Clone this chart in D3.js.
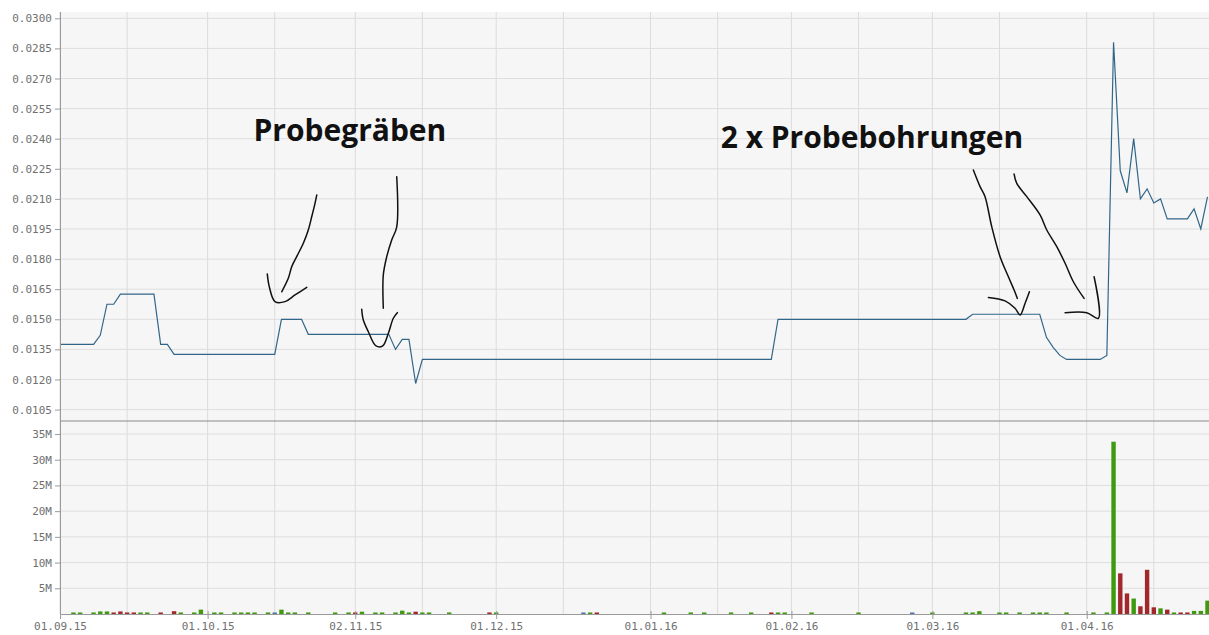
<!DOCTYPE html>
<html>
<head>
<meta charset="utf-8">
<script src="https://cdn.jsdelivr.net/npm/d3@7"></script>
<style>
  body { margin: 0; background: #ffffff; }
  svg { display: block; font-family: "DejaVu Sans Mono", monospace; }
</style>
</head>
<body>
<div id="chart"></div>
<script>
// Price line, breakpoints (linear between them)
const priceDates = [
  "2015-09-01", "2015-09-08", "2015-09-09", "2015-09-10", "2015-09-11", "2015-09-14",
  "2015-09-21", "2015-09-22", "2015-09-23", "2015-09-24", "2015-10-15", "2015-10-16",
  "2015-10-21", "2015-10-22", "2015-11-09", "2015-11-10", "2015-11-11", "2015-11-12",
  "2015-11-13", "2015-11-16", "2016-01-27", "2016-01-28", "2016-03-08", "2016-03-09",
  "2016-03-23", "2016-03-24", "2016-03-25", "2016-03-28", "2016-03-29", "2016-04-05",
  "2016-04-06", "2016-04-07", "2016-04-08", "2016-04-11", "2016-04-12", "2016-04-13",
  "2016-04-14", "2016-04-15", "2016-04-18", "2016-04-19", "2016-04-22", "2016-04-25",
  "2016-04-26", "2016-04-27"
];
const priceValues = [
  0.01375, 0.01375, 0.0142, 0.01575, 0.01575, 0.01625,
  0.01625, 0.01375, 0.01375, 0.01325, 0.01325, 0.0150,
  0.0150, 0.01425, 0.01425, 0.0135, 0.0140, 0.0140,
  0.0118, 0.0130, 0.0130, 0.0150, 0.0150, 0.01525,
  0.01525, 0.0141, 0.0136, 0.0132, 0.0130, 0.0130,
  0.0132, 0.0288, 0.0224, 0.0213, 0.0240, 0.0210,
  0.0215, 0.0208, 0.0210, 0.0200, 0.0200, 0.0205,
  0.0195, 0.0211
];

// Volume bars (days without a bar are left out)
const volumeDates = [
  "2015-09-03", "2015-09-04", "2015-09-08", "2015-09-09", "2015-09-10", "2015-09-11",
  "2015-09-14", "2015-09-15", "2015-09-16", "2015-09-17", "2015-09-18", "2015-09-22",
  "2015-09-24", "2015-09-25", "2015-09-29", "2015-09-30", "2015-10-02", "2015-10-05",
  "2015-10-07", "2015-10-08", "2015-10-09", "2015-10-12", "2015-10-14", "2015-10-15",
  "2015-10-16", "2015-10-19", "2015-10-20", "2015-10-22", "2015-10-28", "2015-10-30",
  "2015-11-02", "2015-11-03", "2015-11-05", "2015-11-06", "2015-11-10", "2015-11-11",
  "2015-11-12", "2015-11-13", "2015-11-16", "2015-11-17", "2015-11-20", "2015-11-30",
  "2015-12-01", "2015-12-18", "2015-12-21", "2015-12-22", "2016-01-05", "2016-01-11",
  "2016-01-13", "2016-01-19", "2016-01-22", "2016-01-27", "2016-01-28", "2016-01-29",
  "2016-02-04", "2016-02-15", "2016-02-25", "2016-03-01", "2016-03-08", "2016-03-09",
  "2016-03-10", "2016-03-15", "2016-03-16", "2016-03-18", "2016-03-22", "2016-03-23",
  "2016-03-24", "2016-03-29", "2016-04-04", "2016-04-06", "2016-04-07", "2016-04-08",
  "2016-04-11", "2016-04-12", "2016-04-13", "2016-04-14", "2016-04-15", "2016-04-18",
  "2016-04-19", "2016-04-20", "2016-04-21", "2016-04-22", "2016-04-25", "2016-04-26",
  "2016-04-27"
];
const volumeValues = [
  0.3, 0.3, 0.3, 0.5, 0.5, 0.3,
  0.5, 0.3, 0.3, 0.3, 0.3, 0.3,
  0.55, 0.3, 0.3, 0.85, 0.3, 0.3,
  0.3, 0.3, 0.3, 0.3, 0.3, 0.3,
  0.85, 0.3, 0.3, 0.3, 0.3, 0.3,
  0.3, 0.45, 0.3, 0.3, 0.3, 0.65,
  0.3, 0.45, 0.3, 0.3, 0.3, 0.3,
  0.3, 0.3, 0.3, 0.3, 0.3, 0.3,
  0.3, 0.3, 0.3, 0.3, 0.3, 0.3,
  0.3, 0.3, 0.3, 0.3, 0.3, 0.3,
  0.55, 0.3, 0.3, 0.3, 0.3, 0.3,
  0.3, 0.3, 0.3, 0.3, 33.5, 7.9,
  4.0, 3.0, 1.5, 8.6, 1.3, 1.1,
  0.85, 0.3, 0.3, 0.3, 0.6, 0.6,
  2.6
].map((v) => v * 1e6);
// u = up (green), d = down (red), n = unchanged (blue)
const volumeDirs = [
  "u", "u", "u", "u", "u", "d",
  "d", "d", "d", "u", "u", "d",
  "d", "u", "u", "u", "u", "u",
  "u", "u", "u", "u", "u", "n",
  "u", "u", "u", "u", "u", "u",
  "d", "u", "u", "u", "u", "u",
  "u", "d", "u", "u", "u", "d",
  "u", "n", "u", "d", "u", "u",
  "u", "u", "u", "d", "u", "u",
  "u", "u", "n", "u", "u", "u",
  "u", "u", "u", "u", "u", "u",
  "u", "u", "u", "u", "u", "d",
  "d", "u", "d", "d", "d", "u",
  "d", "u", "d", "d", "u", "u",
  "u"
];

// Axis ticks
const priceTicks = [0.0105, 0.012, 0.0135, 0.015, 0.0165, 0.018, 0.0195, 0.021,
  0.0225, 0.024, 0.0255, 0.027, 0.0285, 0.03];
const volumeTicks = [5e6, 10e6, 15e6, 20e6, 25e6, 30e6, 35e6];
const monthTicks = ["2015-09-01", "2015-10-01", "2015-11-02", "2015-12-01",
  "2016-01-01", "2016-02-01", "2016-03-01", "2016-04-01"];
const midMonthGrid = ["2015-09-15", "2015-10-15", "2015-11-16", "2015-12-15",
  "2016-01-15", "2016-02-15", "2016-03-15", "2016-04-15"];

// Hand-drawn arrows, as [trading day index, price]
const arrows = [
  [[38.26, 0.02119], [38.0, 0.02078], [37.51, 0.02011], [37.0, 0.01945], [36.26, 0.01879],
   [35.27, 0.01812], [34.53, 0.01762], [34.02, 0.01704], [33.04, 0.01637]],
  [[30.89, 0.01726], [31.19, 0.01662], [32.04, 0.01588], [33.53, 0.01588], [35.02, 0.01621],
   [36.77, 0.01659]],
  [[50.18, 0.0221], [50.18, 0.01961], [49.43, 0.01895], [48.69, 0.01812], [48.18, 0.01721],
   [48.18, 0.01555]],
  [[44.96, 0.0155], [45.2, 0.01496], [45.95, 0.01438], [47.09, 0.01367], [48.09, 0.01367],
   [48.93, 0.0143], [49.67, 0.01505], [50.27, 0.01533]],
  [[136.11, 0.02244], [137.11, 0.02161], [137.85, 0.02111], [138.85, 0.01961], [140.09, 0.01812],
   [141.33, 0.01712], [142.18, 0.01646], [142.67, 0.01604]],
  [[138.35, 0.01609], [140.83, 0.01592], [142.32, 0.01555], [143.07, 0.01521], [143.82, 0.0158],
   [144.46, 0.01637]],
  [[142.18, 0.02224], [142.58, 0.02177], [144.07, 0.02111], [146.05, 0.0202], [147.05, 0.01945],
   [148.54, 0.01862], [149.78, 0.01779], [151.01, 0.01687], [152.61, 0.01604]],
  [[149.78, 0.01533], [153.01, 0.01533], [154.74, 0.01505], [154.1, 0.01712]]
];
const labels = [
  { text: "Probegräben", idx: 43.2, value: 0.0239 },
  { text: "2 x Probebohrungen", idx: 121, value: 0.02355 }
];

const W = 1209, H = 635;
const plotLeft = 60, plotRight = 1209;
const priceTop = 12, split = 421, volBottom = 614;

const parse = d3.timeParse("%Y-%m-%d");
const key = d3.timeFormat("%Y-%m-%d");
const tickFmt = d3.timeFormat("%d.%m.%y");

// Trading days (weekdays) from first to last date
const days = d3.timeDay
  .range(parse("2015-09-01"), d3.timeDay.offset(parse("2016-04-27"), 1))
  .filter((d) => d.getDay() !== 0 && d.getDay() !== 6)
  .map(key);

const x = d3.scalePoint().domain(days).range([plotLeft, 1207.5]);
const xi = d3.scaleLinear().domain([0, days.length - 1]).range([plotLeft, 1207.5]);

const yPrice = d3.scaleLinear().domain([0.01, 0.03]).range([419.6, 18.3]);
const yVol = d3.scaleLinear().domain([0, 35e6]).range([volBottom, 434]);

const colors = { u: "#3f9a10", d: "#a2282c", n: "#5476ad" };

const svg = d3.select("#chart").append("svg")
  .attr("width", W).attr("height", H)
  .attr("viewBox", [0, 0, W, H]);

// Plot background
svg.append("rect")
  .attr("x", plotLeft).attr("y", priceTop)
  .attr("width", plotRight - plotLeft).attr("height", volBottom - priceTop)
  .attr("fill", "#f6f6f6");

// Horizontal grid
svg.append("g").selectAll("line")
  .data(priceTicks).join("line")
  .attr("x1", plotLeft).attr("x2", plotRight)
  .attr("y1", (d) => yPrice(d)).attr("y2", (d) => yPrice(d))
  .attr("stroke", "#dedede");

svg.append("g").selectAll("line")
  .data(volumeTicks).join("line")
  .attr("x1", plotLeft).attr("x2", plotRight)
  .attr("y1", (d) => yVol(d)).attr("y2", (d) => yVol(d))
  .attr("stroke", "#dedede");

// Vertical grid
svg.append("g").selectAll("line")
  .data(monthTicks.concat(midMonthGrid)).join("line")
  .attr("x1", (d) => x(d)).attr("x2", (d) => x(d))
  .attr("y1", priceTop).attr("y2", volBottom)
  .attr("stroke", "#dcdcdc");

// Panel separator
svg.append("line")
  .attr("x1", plotLeft).attr("x2", plotRight)
  .attr("y1", split).attr("y2", split)
  .attr("stroke", "#8a8a8a").attr("stroke-width", 1.2);

// Volume bars
const barW = 4.4;
svg.append("g").selectAll("rect")
  .data(volumeDates.map((d, i) => ({ date: d, v: volumeValues[i], dir: volumeDirs[i] })))
  .join("rect")
  .attr("x", (d) => x(d.date) - barW / 2)
  .attr("y", (d) => yVol(d.v))
  .attr("width", barW)
  .attr("height", (d) => volBottom - yVol(d.v))
  .attr("fill", (d) => colors[d.dir]);

// Price line
const line = d3.line()
  .x((d) => x(d.date))
  .y((d) => yPrice(d.v));

svg.append("path")
  .datum(priceDates.map((d, i) => ({ date: d, v: priceValues[i] })))
  .attr("d", line)
  .attr("fill", "none")
  .attr("stroke", "#326689")
  .attr("stroke-width", 1.2);

// Axes
const axisColor = "#9a9a9a";
const textColor = "#707070";

const gy = svg.append("g")
  .attr("transform", `translate(${plotLeft},0)`)
  .call(d3.axisLeft(yPrice).tickValues(priceTicks).tickFormat(d3.format(".4f"))
    .tickSize(5).tickPadding(3).tickSizeOuter(0));

const gv = svg.append("g")
  .attr("transform", `translate(${plotLeft},0)`)
  .call(d3.axisLeft(yVol).tickValues(volumeTicks).tickFormat((d) => d / 1e6 + "M")
    .tickSize(5).tickPadding(3).tickSizeOuter(0));

const gx = svg.append("g")
  .attr("transform", `translate(0,${volBottom})`)
  .call(d3.axisBottom(x).tickValues(monthTicks).tickFormat((d) => tickFmt(parse(d)))
    .tickSize(5).tickPadding(3).tickSizeOuter(0));

gx.select(".domain").attr("d", `M${plotLeft},0.5H${plotRight}`);
gx.selectAll(".tick line").attr("y1", -3);

for (const g of [gy, gv, gx]) {
  g.select(".domain").attr("stroke", axisColor);
  g.selectAll(".tick line").attr("stroke", axisColor);
  g.selectAll(".tick text")
    .attr("fill", textColor)
    .style("font-family", '"DejaVu Sans Mono", monospace')
    .style("font-size", "11px");
}
gy.select(".domain").attr("d", `M0.5,${priceTop}V${split}`);
gv.select(".domain").attr("d", `M0.5,${split}V${volBottom}`);

// Hand-drawn annotations
const ink = d3.line()
  .x((d) => xi(d[0]))
  .y((d) => yPrice(d[1]))
  .curve(d3.curveCatmullRom);

svg.append("g").selectAll("path")
  .data(arrows).join("path")
  .attr("d", ink)
  .attr("fill", "none")
  .attr("stroke", "#111")
  .attr("stroke-width", 1.5)
  .attr("stroke-linecap", "round");

svg.append("g").selectAll("text")
  .data(labels).join("text")
  .attr("x", (d) => xi(d.idx))
  .attr("y", (d) => yPrice(d.value))
  .attr("text-anchor", "middle")
  .style("font-family", '"Open Sans", sans-serif')
  .style("font-weight", "bold")
  .style("font-size", "30px")
  .attr("fill", "#111")
  .text((d) => d.text);
</script>
</body>
</html>
